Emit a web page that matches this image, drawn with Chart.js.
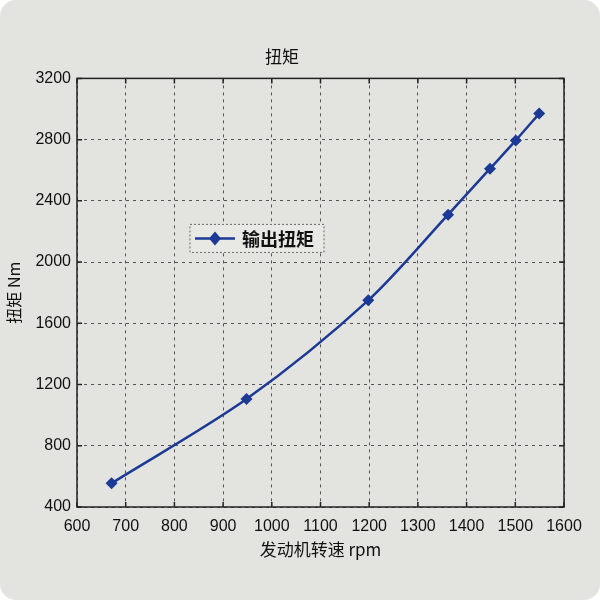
<!DOCTYPE html>
<html>
<head>
<meta charset="utf-8">
<script src="https://cdn.jsdelivr.net/npm/chart.js@4/dist/chart.umd.min.js"></script>
<style>
  html, body { margin: 0; padding: 0; background: #fff; }
  #marco { width: 600px; height: 600px; background: #e3e3df; border-radius: 16px; overflow: hidden; }
</style>
</head>
<body>
<div id="marco"><canvas id="grafico" width="600" height="600"></canvas></div>
<script>
// Datos: velocidad del motor (rpm) vs par de salida (Nm)
const velocidades = [671, 948, 1198, 1362, 1448, 1501, 1549];
const parSalida = [555, 1105, 1750, 2310, 2610, 2795, 2970];
const ticksX = [600, 700, 800, 900, 1000, 1100, 1200, 1300, 1400, 1500, 1600];
const ticksY = [400, 800, 1200, 1600, 2000, 2400, 2800, 3200];

const azul = '#1c3a95';
const fuenteTicks = { family: '"Liberation Sans", Arial, sans-serif', size: 16 };
const fuenteCJK = '"Noto Sans CJK SC", "Noto Sans", sans-serif';

// marco tipo matlab: borde completo + marcas hacia dentro
const marcoEjes = {
  id: 'marcoEjes',
  afterDatasetsDraw(chart) {
    const { ctx, chartArea: a, scales } = chart;
    ctx.save();
    ctx.strokeStyle = '#222';
    ctx.lineWidth = 1.5;
    ctx.setLineDash([]);
    ctx.strokeRect(a.left, a.top, a.right - a.left, a.bottom - a.top);
    ctx.beginPath();
    ticksX.forEach((v) => {
      const x = scales.x.getPixelForValue(v);
      ctx.moveTo(x, a.bottom); ctx.lineTo(x, a.bottom - 5);
      ctx.moveTo(x, a.top); ctx.lineTo(x, a.top + 5);
    });
    ticksY.forEach((v) => {
      const y = scales.y.getPixelForValue(v);
      ctx.moveTo(a.left, y); ctx.lineTo(a.left + 5, y);
      ctx.moveTo(a.right, y); ctx.lineTo(a.right - 5, y);
    });
    ctx.stroke();
    ctx.restore();
  },
};

// leyenda dentro del área, con borde punteado
const leyendaInterna = {
  id: 'leyendaInterna',
  afterDraw(chart) {
    const { ctx, chartArea: a } = chart;
    const ds = chart.data.datasets[0];
    const x0 = a.left + 113, y0 = a.top + 146, w = 134, h = 28;
    ctx.save();
    ctx.fillStyle = '#e8e8e4';
    ctx.fillRect(x0, y0, w, h);
    ctx.strokeStyle = '#666';
    ctx.lineWidth = 1;
    ctx.setLineDash([2, 2]);
    ctx.strokeRect(x0, y0, w, h);
    ctx.setLineDash([]);
    const yc = y0 + h / 2;
    ctx.strokeStyle = azul;
    ctx.lineWidth = 2.5;
    ctx.beginPath();
    ctx.moveTo(x0 + 5, yc); ctx.lineTo(x0 + 45, yc);
    ctx.stroke();
    ctx.fillStyle = azul;
    ctx.beginPath();
    ctx.moveTo(x0 + 25, yc - 7); ctx.lineTo(x0 + 31, yc);
    ctx.lineTo(x0 + 25, yc + 7); ctx.lineTo(x0 + 19, yc);
    ctx.closePath();
    ctx.fill();
    ctx.fillStyle = '#111';
    ctx.font = 'bold 18px ' + fuenteCJK;
    ctx.textBaseline = 'middle';
    ctx.fillText(ds.label, x0 + 52, yc + 1);
    ctx.restore();
  },
};

new Chart(document.getElementById('grafico'), {
  type: 'line',
  data: {
    datasets: [{
      label: '输出扭矩',
      data: velocidades.map((v, i) => ({ x: v, y: parSalida[i] })),
      borderColor: azul,
      borderWidth: 2.5,
      backgroundColor: azul,
      pointStyle: 'rectRot',
      pointRadius: 6,
      pointBorderWidth: 0,
      tension: 0.3,
    }],
  },
  options: {
    responsive: false,
    animation: false,
    devicePixelRatio: 1,
    layout: { padding: { left: 0, right: 36, top: 0, bottom: 36 } },
    plugins: {
      legend: { display: false },
      tooltip: { enabled: false },
      title: {
        display: true,
        text: '扭矩',
        color: '#111',
        font: { family: fuenteCJK, size: 17, weight: 'normal' },
        padding: { top: 46, bottom: 12 },
      },
    },
    scales: {
      x: {
        type: 'linear',
        min: 600,
        max: 1600,
        afterBuildTicks: (s) => { s.ticks = ticksX.map((v) => ({ value: v })); },
        afterFit: (s) => { s.height = 57; },
        ticks: { color: '#111', font: fuenteTicks, padding: 10, maxRotation: 0, callback: (v) => String(v) },
        grid: { color: '#555', lineWidth: 1, drawTicks: false },
        border: { display: false, dash: [3, 4] },
        title: {
          display: true,
          text: '发动机转速 rpm',
          color: '#111',
          font: { family: fuenteCJK, size: 17 },
          padding: { top: 0 },
        },
      },
      y: {
        type: 'linear',
        min: 400,
        max: 3200,
        afterBuildTicks: (s) => { s.ticks = ticksY.map((v) => ({ value: v })); },
        afterFit: (s) => { s.width = 77; },
        ticks: { color: '#111', font: fuenteTicks, padding: 6, callback: (v) => String(v) },
        grid: { color: '#555', lineWidth: 1, drawTicks: false },
        border: { display: false, dash: [3, 4] },
        title: {
          display: true,
          text: '扭矩 Nm',
          color: '#111',
          font: { family: fuenteCJK, size: 16 },
          padding: { bottom: 0 },
        },
      },
    },
  },
  plugins: [marcoEjes, leyendaInterna],
});
</script>
</body>
</html>
